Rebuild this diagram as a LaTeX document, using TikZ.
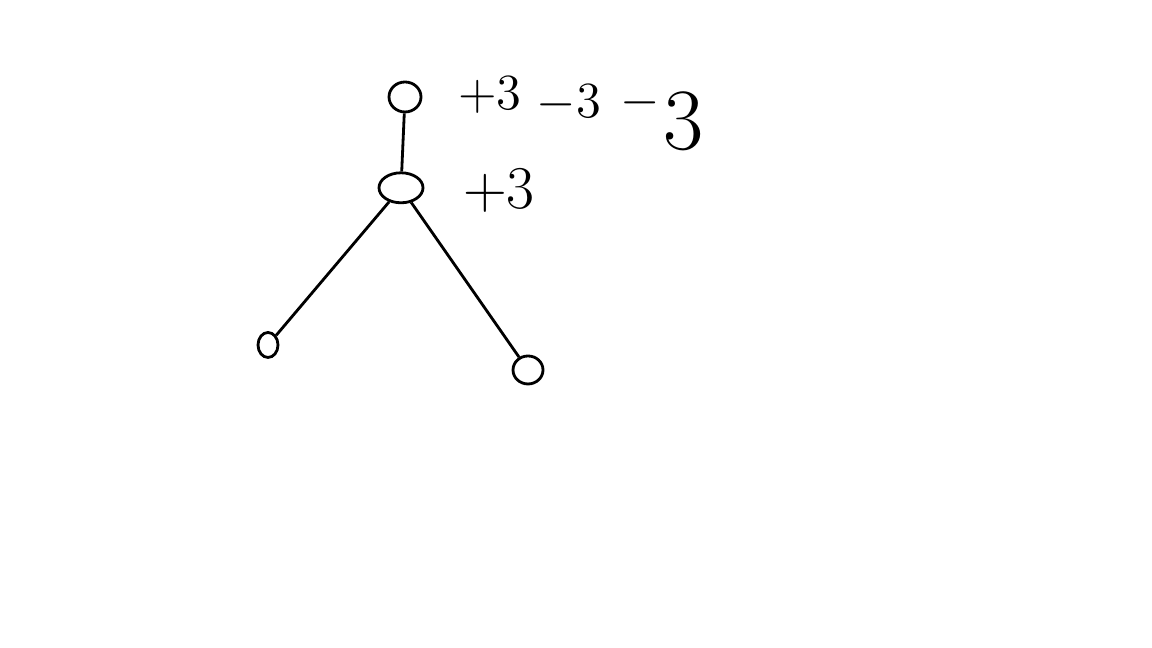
\documentclass[tikz,border=0pt]{standalone}
\usepackage{tikz}
\usetikzlibrary{positioning,shapes.geometric}

\tikzset{
  vtx/.style={draw, ellipse, line width=0.8pt, inner sep=0pt},
  lnk/.style={line width=0.8pt},
  lbl/.style={inner sep=0pt, font=\fontsize{14}{16}\selectfont}
}

\begin{document}
\begin{tikzpicture}
  \useasboundingbox (0,0) rectangle (11.52,6.48);

  % tree
  \node[vtx, minimum width=0.32cm, minimum height=0.3cm] (root) at (4.05,5.51) {}; %
  \node[vtx, minimum width=0.44cm, minimum height=0.3cm, below=0.58 of root, xshift=-0.04cm] (mid) {}; %
  \node[vtx, minimum width=0.2cm, minimum height=0.25cm] (lleaf) at (2.68,3.03) {}; %
  \node[vtx, minimum width=0.3cm, minimum height=0.28cm] (rleaf) at (5.28,2.78) {}; %

  % labels
  \node[lbl, right=0.35 of root, yshift=0.02cm] (s1) {$+3$}; %
  \node[lbl, right=0.14 of s1, yshift=-0.08cm] (s2) {$-3$}; %
  \node[lbl, right=0.18 of s2] (s3) {$-$}; %
  \node[lbl, right=0.02 of s3, yshift=-0.18cm, font=\fontsize{30}{34}\selectfont] (s4) {$3$}; %
  \node[lbl, right=0.38 of mid, yshift=-0.03cm, font=\fontsize{17}{20}\selectfont] (m1) {$+3$}; %

  % edges
  \draw[lnk] (root) -- (mid); %
  \draw[lnk] (mid) -- (lleaf); %
  \draw[lnk] (mid) -- (rleaf); %
\end{tikzpicture}
\end{document}
